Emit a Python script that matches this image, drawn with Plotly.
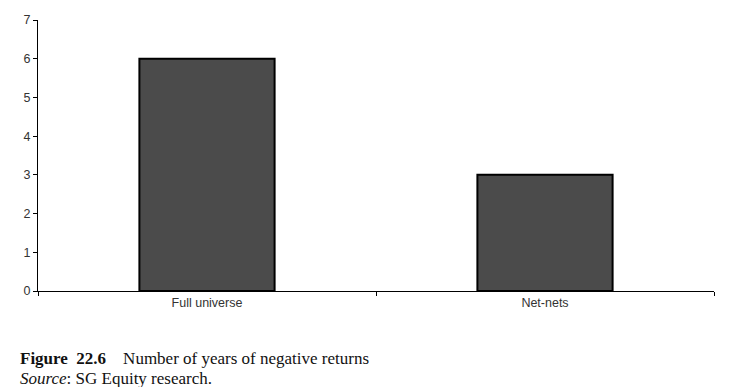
import plotly.graph_objects as go

categories = ["Full universe", "Net-nets"]
values = [6, 3]
y_ticks = [0, 1, 2, 3, 4, 5, 6, 7]

fig = go.Figure()
fig.add_trace(go.Bar(
    x=categories, y=values, width=0.4,
    marker=dict(color="#4b4b4b", line=dict(color="#000000", width=2)),
))

fig.update_layout(
    width=733, height=379,
    margin=dict(l=30, r=27, t=12, b=96, autoexpand=False),
    paper_bgcolor="white", plot_bgcolor="white",
    showlegend=False,
    font=dict(family="Liberation Sans, Arial, sans-serif", size=12.5, color="#333333"),
)
fig.update_xaxes(
    showline=True, linecolor="black", linewidth=1,
    ticks="outside", tickson="boundaries", ticklen=4, tickcolor="black",
    showgrid=False, tickfont=dict(size=12.5, color="#333333"),
)
fig.update_yaxes(
    range=[0, 7], tickvals=y_ticks,
    showline=True, linecolor="black", linewidth=1,
    ticks="outside", ticklen=4, tickcolor="black",
    showgrid=False, zeroline=False, tickfont=dict(size=12.5, color="#333333"),
)

cap_font = dict(family="Liberation Serif, Times New Roman, serif", size=17, color="#111111")
fig.add_annotation(
    xref="paper", yref="paper", x=-0.03, y=-0.205, xanchor="left", yanchor="top",
    showarrow=False, align="left",
    text="<b>Figure  22.6</b>    Number of years of negative returns",
    font=cap_font,
)
fig.add_annotation(
    xref="paper", yref="paper", x=-0.03, y=-0.279, xanchor="left", yanchor="top",
    showarrow=False, align="left",
    text="<i>Source</i>: SG Equity research.",
    font=cap_font,
)

fig.write_html("out.html")
